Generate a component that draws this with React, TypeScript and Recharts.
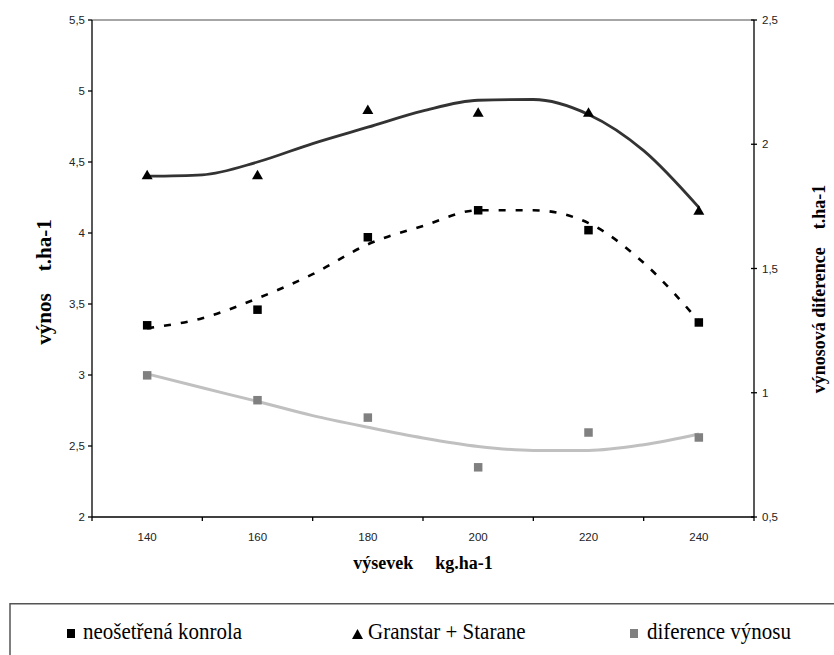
import { ComposedChart, Scatter, Line, XAxis, YAxis, ReferenceLine, Label } from 'recharts';

// measured points
const seedRates = [140, 160, 180, 200, 220, 240];
const controlYield = [3.35, 3.46, 3.97, 4.16, 4.02, 3.37];
const treatedYield = [4.41, 4.41, 4.87, 4.85, 4.85, 4.16];
const yieldDiff = [1.07, 0.97, 0.9, 0.7, 0.84, 0.82];

// trend lines, every 10 kg
const trendRates = [140, 150, 160, 170, 180, 190, 200, 210, 220, 230, 240];
const controlTrend = [3.33, 3.4, 3.54, 3.71, 3.92, 4.05, 4.16, 4.16, 4.07, 3.79, 3.38];
const treatedTrend = [4.4, 4.41, 4.5, 4.63, 4.745, 4.86, 4.935, 4.94, 4.835, 4.58, 4.18];
const diffTrend = [1.076, 1.02, 0.965, 0.908, 0.861, 0.818, 0.784, 0.768, 0.768, 0.791, 0.834];

const xTicks = [130, 140, 150, 160, 170, 180, 190, 200, 210, 220, 230, 240, 250];
const leftTicks = [2, 2.5, 3, 3.5, 4, 4.5, 5, 5.5];
const rightTicks = [0.5, 1, 1.5, 2, 2.5];

const seriesNames = ['neošetřená konrola', 'Granstar + Starane', 'diference výnosu'];

const toPoints = (xs: number[], ys: number[]) => xs.map((x, i) => ({ x, y: ys[i] }));

const controlPts = toPoints(seedRates, controlYield);
const treatedPts = toPoints(seedRates, treatedYield);
const diffPts = toPoints(seedRates, yieldDiff);
const controlLine = toPoints(trendRates, controlTrend);
const treatedLine = toPoints(trendRates, treatedTrend);
const diffLine = toPoints(trendRates, diffTrend);

const sans = '"Liberation Sans", Arial, sans-serif';
const serif = '"Liberation Serif", "Times New Roman", serif';
const fmt = (v: number) => String(v).replace('.', ',');

const XTick = (props: any) => {
  const { x, y, payload } = props;
  const v = payload.value;
  if (v % 20 === 0) {
    return (
      <text x={x} y={y + 24} textAnchor="middle" fontSize={11.5} fill="#222" fontFamily={sans}>
        {v}
      </text>
    );
  }
  return <line x1={x} x2={x} y1={y} y2={y + 4} stroke="#000" strokeWidth={1.3} />;
};

const RightTick = (props: any) => {
  const { x, y, payload } = props;
  return (
    <g>
      <line x1={x - 3} x2={x + 3} y1={y} y2={y} stroke="#000" strokeWidth={1.3} />
      <text x={x + 8} y={y} dy="0.35em" fontSize={11.5} fill="#222" fontFamily={sans}>
        {fmt(payload.value)}
      </text>
    </g>
  );
};

const square = (color: string) => (p: any) => (
  <rect x={p.cx - 4.25} y={p.cy - 4.25} width={8.5} height={8.5} fill={color} />
);

const triangle = (p: any) => (
  <polygon
    points={`${p.cx - 5.5},${p.cy + 4.5} ${p.cx + 5.5},${p.cy + 4.5} ${p.cx},${p.cy - 5}`}
    fill="#000"
  />
);

const titleStyle = { fontFamily: serif, fontWeight: 'bold' as const, fontSize: 18, fill: '#000' };

const LeftTitle = () => (
  <text x={51} y={282} transform="rotate(-90 51 282)" textAnchor="middle" style={{ ...titleStyle, fontSize: 21 }}>
    <tspan>výnos</tspan>
    <tspan dx={22}>t.ha-1</tspan>
  </text>
);

const RightTitle = () => (
  <text x={825} y={289} transform="rotate(-90 825 289)" textAnchor="middle" style={titleStyle}>
    <tspan>výnosová diference</tspan>
    <tspan dx={18}>t.ha-1</tspan>
  </text>
);

const BottomTitle = () => (
  <text x={423} y={569} textAnchor="middle" style={titleStyle}>
    <tspan>výsevek</tspan>
    <tspan dx={22}>kg.ha-1</tspan>
  </text>
);

const legendText = (x: number, label: string) => (
  <text
    x={x}
    y={36}
    fontFamily={serif}
    fontSize={21}
    fill="#000"
    transform="translate(0 36) scale(1 1.12) translate(0 -36)"
  >
    {label}
  </text>
);

export default function App() {
  return (
    <div style={{ position: 'absolute', left: 0, top: 0, width: 834, height: 655, overflow: 'hidden', background: '#fff' }}>
      <ComposedChart width={834} height={655} margin={{ top: 20, right: 0, bottom: 78, left: 0 }}>
        <XAxis
          type="number"
          dataKey="x"
          domain={[130, 250]}
          ticks={xTicks}
          interval={0}
          height={60}
          tickSize={0}
          tickMargin={0}
          tickLine={false}
          tick={<XTick />}
          axisLine={{ stroke: '#000', strokeWidth: 1.3 }}
        >
          <Label content={<BottomTitle />} />
        </XAxis>
        <YAxis
          yAxisId="left"
          dataKey="y"
          type="number"
          domain={[2, 5.5]}
          ticks={leftTicks}
          interval={0}
          width={92}
          tickSize={4}
          tickMargin={3}
          tickFormatter={fmt}
          tick={{ fontSize: 11.5, fill: '#222', fontFamily: sans }}
          tickLine={{ stroke: '#000', strokeWidth: 1.3 }}
          axisLine={{ stroke: '#000', strokeWidth: 1.3 }}
        >
          <Label content={<LeftTitle />} />
        </YAxis>
        <YAxis
          yAxisId="right"
          orientation="right"
          dataKey="y"
          type="number"
          domain={[0.5, 2.5]}
          ticks={rightTicks}
          interval={0}
          width={80}
          tickSize={0}
          tickMargin={0}
          tickLine={false}
          tick={<RightTick />}
          axisLine={{ stroke: '#000', strokeWidth: 1.3 }}
        >
          <Label content={<RightTitle />} />
        </YAxis>
        <ReferenceLine yAxisId="left" y={5.5} stroke="#888" strokeWidth={1.3} />

        <Scatter yAxisId="left" name={seriesNames[0]} data={controlPts} shape={square('#000')} isAnimationActive={false} />
        <Scatter yAxisId="left" name={seriesNames[1]} data={treatedPts} shape={triangle} isAnimationActive={false} />
        <Scatter yAxisId="right" name={seriesNames[2]} data={diffPts} shape={square('#808080')} isAnimationActive={false} />

        <Line yAxisId="right" data={diffLine} dataKey="y" type="monotone" stroke="#c0c0c0" strokeWidth={3} dot={false} activeDot={false} isAnimationActive={false} />
        <Line yAxisId="left" data={controlLine} dataKey="y" type="monotone" stroke="#000" strokeWidth={2.6} strokeDasharray="7 10" dot={false} activeDot={false} isAnimationActive={false} />
        <Line yAxisId="left" data={treatedLine} dataKey="y" type="monotone" stroke="#333" strokeWidth={2.8} dot={false} activeDot={false} isAnimationActive={false} />
      </ComposedChart>

      <svg width={834} height={52} style={{ position: 'absolute', left: 0, top: 603 }}>
        <rect x={10} y={0.75} width={900} height={100} fill="none" stroke="#555" strokeWidth={1.5} />
        <rect x={67} y={26} width={8} height={9} fill="#000" />
        {legendText(83, seriesNames[0])}
        <polygon points="352,36 363,36 357.5,26" fill="#000" />
        {legendText(368, seriesNames[1])}
        <rect x={630} y={26} width={8} height={9} fill="#808080" />
        {legendText(647, seriesNames[2])}
      </svg>
    </div>
  );
}
